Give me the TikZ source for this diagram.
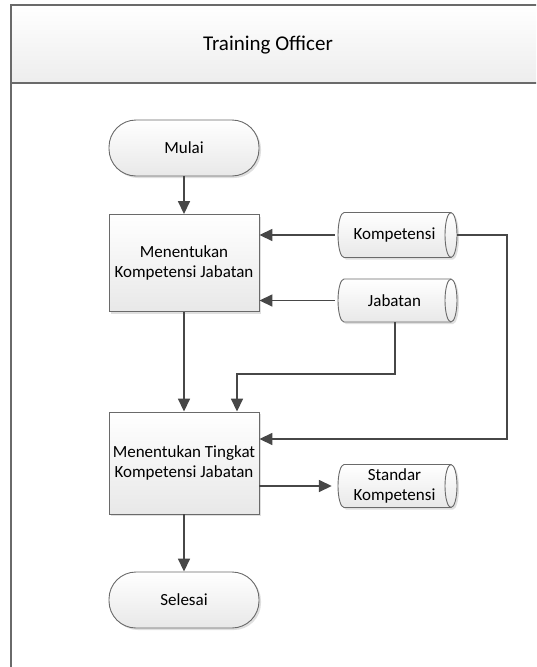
\documentclass[tikz,border=0pt]{standalone}
\usepackage{fontspec}
\setmainfont{Carlito}
\usetikzlibrary{arrows.meta,shadows}
\definecolor{linec}{HTML}{474747}
\definecolor{borderc}{HTML}{6A6A6A}
\tikzset{
  fillstyle/.style={draw=borderc, line width=0.9pt, top color=white, bottom color=black!9,
    drop shadow={shadow xshift=2pt, shadow yshift=-2pt, fill=black!25, opacity=0.5}},
  txt/.style={font=\fontsize{17}{20.5}\selectfont, align=center, text=black},
  base/.style={fillstyle, txt},
  procbox/.style={base, rectangle, minimum width=150pt, minimum height=97pt, inner sep=2pt},
  term/.style={base, rectangle, rounded corners=27pt, minimum width=150pt, minimum height=56pt},
  storetxt/.style={txt, rectangle, minimum width=119pt, minimum height=45pt, inner sep=1pt},
  flow/.style={draw=linec, line width=1.6pt, -{Triangle[length=13pt,width=12pt]}},
}
% \cylstore{name}{cx}{cy}{height}{text}
\newcommand{\cylstore}[5]{%
  \pgfmathsetmacro{\cxl}{#2-59.5}\pgfmathsetmacro{\cxr}{#2+59.5}%
  \pgfmathsetmacro{\cyt}{#3-#4/2}\pgfmathsetmacro{\cyb}{#3+#4/2}%
  \pgfmathsetmacro{\cry}{#4/2}%
  \path[fillstyle] (\cxl+6,\cyt) arc[start angle=90, end angle=270, x radius=6pt, y radius=\cry pt]
     -- (\cxr-6,\cyb) arc[start angle=270, end angle=450, x radius=6pt, y radius=\cry pt] -- cycle;
  \draw[borderc, line width=0.9pt] (\cxr-6,\cyt) arc[start angle=90, end angle=270, x radius=6pt, y radius=\cry pt];
  \node[storetxt, minimum height=#4pt] (#1) at (#2-3,#3) {#5};%
}
\begin{document}
\begin{tikzpicture}[x=1pt,y=-1pt]
\useasboundingbox (0,0) rectangle (536,667);
\clip (0,0) rectangle (536,667);
% swimlane
\shade[top color=white, bottom color=black!7] (11,5) rectangle (560,83);
\draw[borderc, line width=1.5pt] (11,690) -- (11,5) -- (560,5);
\draw[borderc, line width=1.5pt] (11,83) -- (560,83);
\node[font=\fontsize{21}{25}\selectfont, text=black] (lane) at (268,45) {Training Officer};
% nodes
\node[term] (mulai) at (184,148) {Mulai};
\node[procbox] (box1) at (184,263) {Menentukan\\Kompetensi Jabatan};
\node[procbox, minimum height=102pt] (box2) at (184,463) {Menentukan Tingkat\\Kompetensi Jabatan};
\node[term] (selesai) at (184,600) {Selesai};
\cylstore{komp}{397.5}{235}{45}{Kompetensi}
\cylstore{jab}{397.5}{300.5}{43}{Jabatan}
\cylstore{std}{397.5}{486}{43}{Standar\\Kompetensi}
\coordinate (kc) at (507,439);
\coordinate (jc) at (237,374);
% connectors
\draw[flow] (mulai) -- (box1);
\draw[flow] (komp.west) -- (komp.west -| box1.east);
\draw[flow] (jab.west) -- (jab.west -| box1.east);
\draw[flow] (box1) -- (box2);
\draw[flow] ([xshift=0.5pt]jab.south) |- (jc) -- (jc |- box2.north);
\draw[flow] ([xshift=3pt]komp.east) -| (kc) -- (kc -| box2.east);
\draw[flow] (box2.east |- std.west) -- ([xshift=-3pt]std.west);
\draw[flow] (box2) -- (selesai);
\end{tikzpicture}
\end{document}
